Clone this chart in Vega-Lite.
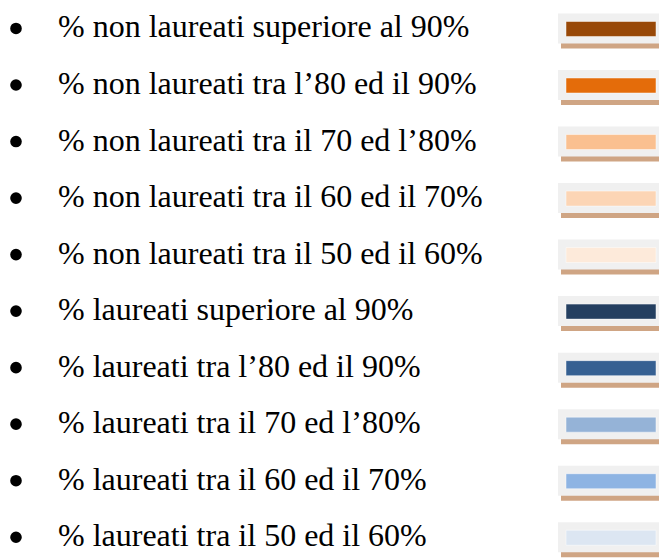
{
  "$schema": "https://vega.github.io/schema/vega-lite/v6.json",
  "width": 659,
  "height": 558,
  "autosize": {"type": "fit", "contains": "padding"},
  "padding": 0,
  "background": "#ffffff",
  "config": {"view": {"stroke": null}},
  "data": {
    "values": [
      {"i": 0, "label": "% non laureati superiore al 90%", "color": "#984807"},
      {"i": 1, "label": "% non laureati tra l’80 ed il 90%", "color": "#E46C0A"},
      {"i": 2, "label": "% non laureati tra il 70 ed l’80%", "color": "#FAC090"},
      {"i": 3, "label": "% non laureati tra il 60 ed il 70%", "color": "#FCD5B5"},
      {"i": 4, "label": "% non laureati tra il 50 ed il 60%", "color": "#FDEADA"},
      {"i": 5, "label": "% laureati superiore al 90%", "color": "#243F60"},
      {"i": 6, "label": "% laureati tra l’80 ed il 90%", "color": "#366092"},
      {"i": 7, "label": "% laureati tra il 70 ed l’80%", "color": "#95B3D7"},
      {"i": 8, "label": "% laureati tra il 60 ed il 70%", "color": "#8EB4E3"},
      {"i": 9, "label": "% laureati tra il 50 ed il 60%", "color": "#DCE6F2"}
    ]
  },
  "encoding": {
    "y": {
      "field": "i",
      "type": "quantitative",
      "scale": {"domain": [-0.5038, 9.1904], "reverse": true, "nice": false, "zero": false},
      "axis": null
    }
  },
  "layer": [
    {
      "mark": {"type": "rect", "color": "#CFA584", "yOffset": 14, "y2Offset": 20},
      "encoding": {
        "y2": {"field": "i"},
        "x": {"datum": 561, "type": "quantitative", "scale": {"domain": [0, 659], "nice": false, "zero": true}, "axis": null},
        "x2": {"datum": 659}
      }
    },
    {
      "mark": {"type": "rect", "color": "#F0F0F0", "yOffset": -15, "y2Offset": 15},
      "encoding": {
        "y2": {"field": "i"},
        "x": {"datum": 558, "type": "quantitative"},
        "x2": {"datum": 659}
      }
    },
    {
      "mark": {"type": "rect", "yOffset": -7, "y2Offset": 8, "stroke": "#ffffff", "strokeWidth": 0.8, "strokeOpacity": 0.6},
      "encoding": {
        "y2": {"field": "i"},
        "x": {"datum": 566, "type": "quantitative"},
        "x2": {"datum": 656},
        "fill": {"field": "color", "type": "nominal", "scale": null}
      }
    },
    {
      "mark": {"type": "point", "shape": "circle", "filled": true, "color": "#000000", "size": 135, "opacity": 1},
      "encoding": {
        "x": {"datum": 16, "type": "quantitative"}
      }
    },
    {
      "mark": {"type": "text", "align": "left", "baseline": "alphabetic", "dy": 9, "font": "Liberation Serif", "fontSize": 32, "color": "#000000"},
      "encoding": {
        "x": {"datum": 58, "type": "quantitative"},
        "text": {"field": "label"}
      }
    }
  ]
}
